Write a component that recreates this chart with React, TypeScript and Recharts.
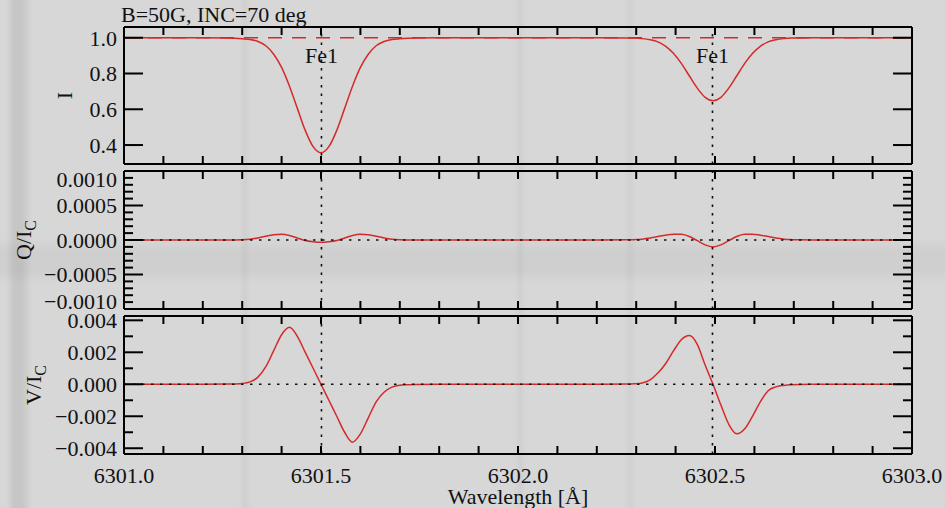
import React from 'react';
import { LineChart, Line, XAxis, YAxis, ReferenceLine } from 'recharts';

// ---------- data ----------
const wavelength = [
  6301.0, 6301.1, 6301.2,
  6301.26, 6301.28, 6301.3, 6301.32, 6301.34, 6301.36, 6301.38, 6301.4, 6301.42, 6301.44, 6301.46, 6301.48,
  6301.5, 6301.52, 6301.54, 6301.56, 6301.58, 6301.6, 6301.62, 6301.64, 6301.66, 6301.68, 6301.7, 6301.72, 6301.74,
  6301.8, 6301.9, 6302.0, 6302.1, 6302.2,
  6302.275, 6302.295, 6302.315, 6302.335, 6302.355, 6302.375, 6302.395, 6302.415, 6302.435, 6302.455, 6302.475,
  6302.495, 6302.515, 6302.535, 6302.555, 6302.575, 6302.595, 6302.615, 6302.635, 6302.655, 6302.675, 6302.695, 6302.715,
  6302.8, 6302.9, 6303.0,
];

const stokesI = [
  1.0, 1.0, 1.0,
  0.999, 0.997, 0.994, 0.99, 0.979, 0.955, 0.908, 0.834, 0.729, 0.605, 0.482, 0.391,
  0.357, 0.391, 0.482, 0.605, 0.729, 0.834, 0.908, 0.955, 0.979, 0.99, 0.994, 0.997, 0.999,
  1.0, 1.0, 1.0, 1.0, 1.0,
  0.999, 0.998, 0.995, 0.989, 0.977, 0.952, 0.912, 0.855, 0.786, 0.718, 0.667,
  0.648, 0.667, 0.718, 0.786, 0.855, 0.912, 0.952, 0.977, 0.989, 0.995, 0.998, 0.999,
  1.0, 1.0, 1.0,
];

const stokesQ = [
  0, 0, 0,
  0, 0.000001, 0.000004, 0.000012, 0.00003, 0.000055, 0.000075, 0.000082, 0.000065, 0.00003, -0.000008, -0.000026,
  -0.000034, -0.000026, -0.000008, 0.00003, 0.000065, 0.000082, 0.000075, 0.000055, 0.00003, 0.000012, 0.000004, 0.000001, 0,
  0, 0, 0, 0, 0,
  0.000002, 0.000005, 0.000012, 0.00003, 0.00005, 0.00007, 0.000085, 0.000082, 0.00005, -0.00001, -0.00007,
  -0.0001, -0.00007, -0.00001, 0.00005, 0.000082, 0.000085, 0.00007, 0.00005, 0.00003, 0.000012, 0.000005, 0.000002,
  0, 0, 0,
];

const stokesV = [
  0, 0, 0,
  0.00001, 0.00002, 0.00005, 0.00015, 0.00045, 0.0011, 0.0021, 0.0031, 0.00356, 0.003, 0.002, 0.001,
  0, -0.001, -0.002, -0.003, -0.00362, -0.0031, -0.0021, -0.0011, -0.0005, -0.00018, -0.00006, -0.00003, -0.00001,
  0, 0, 0, 0, 0,
  0.00001, 0.00003, 0.00008, 0.00027, 0.0007, 0.0013, 0.0021, 0.0028, 0.00305, 0.0025, 0.0012,
  0, -0.0013, -0.0025, -0.0031, -0.0028, -0.002, -0.0011, -0.0004, -0.00016, -0.00007, -0.00003, -0.00001,
  0, 0, 0,
];

const lineCenters = [6301.5012, 6302.4936];
const lineNames = ['Fe1', 'Fe1'];

const xTicks = [
  6301.0, 6301.1, 6301.2, 6301.3, 6301.4, 6301.5, 6301.6, 6301.7, 6301.8, 6301.9,
  6302.0, 6302.1, 6302.2, 6302.3, 6302.4, 6302.5, 6302.6, 6302.7, 6302.8, 6302.9, 6303.0,
];
const xLabelTicks = [6301.0, 6301.5, 6302.0, 6302.5, 6303.0];

const iMajor = [0.4, 0.6, 0.8, 1.0];
const qMajor = [-0.001, -0.0005, 0, 0.0005, 0.001];
const qMinor = [
  -0.0009, -0.0008, -0.0007, -0.0006, -0.0004, -0.0003, -0.0002, -0.0001,
  0.0001, 0.0002, 0.0003, 0.0004, 0.0006, 0.0007, 0.0008, 0.0009,
];
const vMajor = [-0.004, -0.002, 0, 0.002, 0.004];
const vMinor = [-0.003, -0.001, 0.001, 0.003];

const rows = wavelength.map((w, i) => ({ w, I: stokesI[i], Q: stokesQ[i], V: stokesV[i] }));

// ---------- styling ----------
const W = 945;
const H = 508;
const PLOT_LEFT = 124;
const PLOT_RIGHT = 912;
const FONT = "'Liberation Serif', 'Times New Roman', 'DejaVu Serif', serif";
const FS = 22;
const RED = '#d42a2a';
const INK = '#111';

const near = (a: number, list: number[]) => list.some((v) => Math.abs(v - a) < 1e-9);

const fmtI = (v: number) => v.toFixed(1);
const fmtQ = (v: number) => (v < 0 ? '\u2212' : '') + Math.abs(v).toFixed(4);
const fmtV = (v: number) => (v < 0 ? '\u2212' : '') + Math.abs(v).toFixed(3);

function leftTick(majors: number[], fmt: (v: number) => string, edgeShift: [number, number, number, number] | null) {
  return (props: any) => {
    const { x, y, payload } = props;
    const v = payload.value as number;
    const major = near(v, majors);
    let dyShift = 0;
    if (edgeShift) {
      if (Math.abs(v - edgeShift[0]) < 1e-9) dyShift = edgeShift[1];
      if (Math.abs(v - edgeShift[2]) < 1e-9) dyShift = edgeShift[3];
    }
    return (
      <g>
        <line x1={x} x2={x + (major ? 19 : 9)} y1={y} y2={y} stroke="#000" strokeWidth={2} />
        {major && (
          <text x={x - 7} y={y + dyShift} dy="0.36em" textAnchor="end" fontFamily={FONT} fontSize={FS} fill={INK}>
            {fmt(v)}
          </text>
        )}
      </g>
    );
  };
}

function rightTick(majors: number[]) {
  return (props: any) => {
    const { x, y, payload } = props;
    const major = near(payload.value, majors);
    return <line x1={x} x2={x - (major ? 19 : 9)} y1={y} y2={y} stroke="#000" strokeWidth={2} />;
  };
}

function bottomTick(showLabels: boolean) {
  return (props: any) => {
    const { x, y, payload } = props;
    const v = payload.value as number;
    return (
      <g>
        <line x1={x} x2={x} y1={y} y2={y - 8} stroke="#000" strokeWidth={2} />
        {showLabels && near(v, xLabelTicks) && (
          <text x={x} y={y + 29} textAnchor="middle" fontFamily={FONT} fontSize={FS} fill={INK}>
            {v.toFixed(1)}
          </text>
        )}
      </g>
    );
  };
}

const topTick = (props: any) => {
  const { x, y } = props;
  return <line x1={x} x2={x} y1={y} y2={y + 8} stroke="#000" strokeWidth={2} />;
};

const axisLine = { stroke: '#000', strokeWidth: 2 };

const feLabel = (name: string) => (p: any) => {
  const vb = p.viewBox || {};
  return (
    <text x={vb.x} y={(vb.y || 0) + 36} textAnchor="middle" fontFamily={FONT} fontSize={FS} fill={INK}>
      {name}
    </text>
  );
};

type PanelProps = {
  top: number;
  bottom: number;
  dataKey: string;
  domain: [number, number];
  yTicks: number[];
  majors: number[];
  fmt: (v: number) => string;
  edgeShift: [number, number, number, number] | null;
  showXLabels: boolean;
  zeroLine: boolean;
  continuumLine: boolean;
  feLabels: boolean;
};

function Panel(p: PanelProps) {
  // axes are 1px thick so that they are rendered; margins compensate
  return (
    <div style={{ position: 'absolute', left: 0, top: 0 }}>
      <LineChart
        width={W}
        height={H}
        data={rows}
        margin={{ top: p.top - 1, bottom: H - p.bottom - 1, left: PLOT_LEFT - 1, right: W - PLOT_RIGHT - 1 }}
      >
        <XAxis
          xAxisId="b"
          dataKey="w"
          type="number"
          domain={[6301, 6303]}
          ticks={xTicks}
          interval={0}
          allowDataOverflow
          orientation="bottom"
          height={1}
          tickSize={0}
          tickMargin={0}
          tickLine={false}
          axisLine={axisLine}
          tick={bottomTick(p.showXLabels)}
        />
        <XAxis
          xAxisId="t"
          dataKey="w"
          type="number"
          domain={[6301, 6303]}
          ticks={xTicks}
          interval={0}
          allowDataOverflow
          orientation="top"
          height={1}
          tickSize={0}
          tickMargin={0}
          tickLine={false}
          axisLine={axisLine}
          tick={topTick}
        />
        <YAxis
          yAxisId="l"
          type="number"
          domain={p.domain}
          ticks={p.yTicks}
          interval={0}
          allowDataOverflow
          orientation="left"
          width={1}
          tickSize={0}
          tickMargin={0}
          tickLine={false}
          axisLine={axisLine}
          tick={leftTick(p.majors, p.fmt, p.edgeShift)}
        />
        <YAxis
          yAxisId="r"
          type="number"
          domain={p.domain}
          ticks={p.yTicks}
          interval={0}
          allowDataOverflow
          orientation="right"
          width={1}
          tickSize={0}
          tickMargin={0}
          tickLine={false}
          axisLine={axisLine}
          tick={rightTick(p.majors)}
        />
        {p.continuumLine && (
          <ReferenceLine xAxisId="b" yAxisId="l" y={1} stroke={RED} strokeWidth={1.3} strokeDasharray="14 10" />
        )}
        <Line
          xAxisId="b"
          yAxisId="l"
          dataKey={p.dataKey}
          type="monotone"
          stroke={RED}
          strokeWidth={1.5}
          dot={false}
          isAnimationActive={false}
        />
        <Line
          xAxisId="t"
          yAxisId="r"
          dataKey={p.dataKey}
          type="monotone"
          stroke="none"
          strokeWidth={0}
          dot={false}
          isAnimationActive={false}
        />
        {p.zeroLine && (
          <ReferenceLine xAxisId="b" yAxisId="l" y={0} stroke={INK} strokeWidth={1.6} strokeDasharray="2.5 6.5" />
        )}
        {lineCenters.map((c, i) => (
          <ReferenceLine
            key={'fe' + i}
            xAxisId="b"
            yAxisId="l"
            x={c}
            stroke={INK}
            strokeWidth={1.6}
            strokeDasharray="2.5 6"
            label={p.feLabels ? feLabel(lineNames[i]) : undefined}
          />
        ))}
      </LineChart>
    </div>
  );
}

const background = {
  backgroundColor: '#d7d7d7',
  backgroundImage: [
    'linear-gradient(to right, rgba(0,0,0,0) 6px, rgba(0,0,0,0.08) 14px, rgba(0,0,0,0.08) 22px, rgba(0,0,0,0) 32px, rgba(0,0,0,0) 239px, rgba(0,0,0,0.035) 245px, rgba(0,0,0,0) 251px, rgba(0,0,0,0) 514px, rgba(0,0,0,0.035) 520px, rgba(0,0,0,0) 526px, rgba(0,0,0,0) 624px, rgba(0,0,0,0.03) 630px, rgba(0,0,0,0) 636px)',
    'linear-gradient(to bottom, rgba(0,0,0,0) 238px, rgba(0,0,0,0.04) 252px, rgba(0,0,0,0.04) 270px, rgba(0,0,0,0) 284px)',
  ].join(', '),
};

export default function App() {
  return (
    <div style={{ position: 'absolute', left: 0, top: 0, width: W, height: H, overflow: 'hidden', ...background }}>
      <Panel
        top={27}
        bottom={164}
        dataKey="I"
        domain={[0.294, 1.06]}
        yTicks={iMajor}
        majors={iMajor}
        fmt={fmtI}
        edgeShift={null}
        showXLabels={false}
        zeroLine={false}
        continuumLine={true}
        feLabels={true}
      />
      <Panel
        top={171}
        bottom={309}
        dataKey="Q"
        domain={[-0.001, 0.001]}
        yTicks={[...qMajor, ...qMinor]}
        majors={qMajor}
        fmt={fmtQ}
        edgeShift={[0.001, 8, -0.001, -8]}
        showXLabels={false}
        zeroLine={true}
        continuumLine={false}
        feLabels={false}
      />
      <Panel
        top={316}
        bottom={454}
        dataKey="V"
        domain={[-0.00436, 0.00427]}
        yTicks={[...vMajor, ...vMinor]}
        majors={vMajor}
        fmt={fmtV}
        edgeShift={null}
        showXLabels={true}
        zeroLine={true}
        continuumLine={false}
        feLabels={false}
      />
      <svg width={W} height={H} style={{ position: 'absolute', left: 0, top: 0, pointerEvents: 'none' }}>
        <g fontFamily={FONT} fontSize={FS} fill={INK}>
          <text x={121} y={22}>B=50G, INC=70 deg</text>
          <text x={72} y={95.5} textAnchor="middle" transform="rotate(-90 72 95.5)">I</text>
          <text x={31} y={240} textAnchor="middle" transform="rotate(-90 31 240)">
            Q/I<tspan fontSize={16} dy={5}>C</tspan>
          </text>
          <text x={41} y={385} textAnchor="middle" transform="rotate(-90 41 385)">
            V/I<tspan fontSize={16} dy={5}>C</tspan>
          </text>
          <text x={518} y={504} textAnchor="middle">Wavelength [Å]</text>
        </g>
      </svg>
    </div>
  );
}
